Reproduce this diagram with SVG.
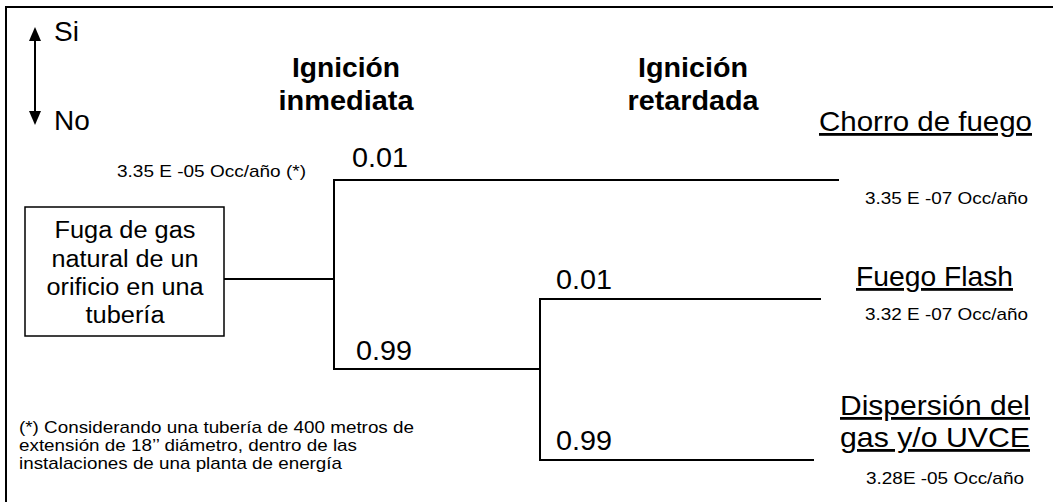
<svg xmlns="http://www.w3.org/2000/svg" width="1053" height="502" viewBox="0 0 1053 502">
<style>
text{font-family:"Liberation Sans",Arial,sans-serif;fill:#000}
.big{font-size:28px}
.hd{font-size:28px;font-weight:bold;text-anchor:middle}
.num{font-size:27px}
.occ{font-size:17px}
.box{font-size:23px;text-anchor:middle}
.note{font-size:17px}
.u{text-decoration:underline}
.ln{stroke:#000;stroke-width:2;fill:none}
</style>
<path d="M6,502 V7 H1053" stroke="#000" stroke-width="2" fill="none"/>
<g id="legend">
<line x1="35" y1="38" x2="35" y2="114" stroke="#000" stroke-width="2"/>
<polygon points="35,27 29,41 41,41" fill="#000"/>
<polygon points="35,125 29,111 41,111" fill="#000"/>
<text class="big" x="54" y="41">Si</text>
<text class="big" x="54" y="130">No</text>
</g>
<g id="headers">
<text class="hd" x="346" y="77" textLength="108" lengthAdjust="spacingAndGlyphs">Ignición</text>
<text class="hd" x="346" y="110" textLength="135" lengthAdjust="spacingAndGlyphs">inmediata</text>
<text class="hd" x="693" y="77" textLength="110" lengthAdjust="spacingAndGlyphs">Ignición</text>
<text class="hd" x="693" y="110" textLength="131" lengthAdjust="spacingAndGlyphs">retardada</text>
</g>
<g id="connectors">
<line class="ln" x1="224" y1="279" x2="334" y2="279"/>
<line class="ln" x1="334" y1="179" x2="334" y2="370"/>
<line class="ln" x1="333" y1="180" x2="839" y2="180"/>
<line class="ln" x1="333" y1="369" x2="541" y2="369"/>
<line class="ln" x1="540" y1="298" x2="540" y2="461"/>
<line class="ln" x1="539" y1="299" x2="821" y2="299"/>
<line class="ln" x1="539" y1="460" x2="814" y2="460"/>
</g>
<g id="node-fuga">
<rect x="25" y="207" width="199" height="129" fill="#fff" stroke="#000" stroke-width="1.5"/>
<text class="box" x="125" y="238" textLength="141" lengthAdjust="spacingAndGlyphs">Fuga de gas</text>
<text class="box" x="125" y="267" textLength="147" lengthAdjust="spacingAndGlyphs">natural de un</text>
<text class="box" x="125" y="295" textLength="157" lengthAdjust="spacingAndGlyphs">orificio en una</text>
<text class="box" x="125" y="323" textLength="79" lengthAdjust="spacingAndGlyphs">tubería</text>
</g>
<g id="label-inicial">
<text class="occ" x="117" y="177" textLength="189" lengthAdjust="spacingAndGlyphs">3.35 E -05 Occ/año (*)</text>
</g>
<g id="prob-labels">
<text class="num" x="352" y="167" textLength="56" lengthAdjust="spacingAndGlyphs">0.01</text>
<text class="num" x="356" y="360" textLength="56" lengthAdjust="spacingAndGlyphs">0.99</text>
<text class="num" x="556" y="289" textLength="56" lengthAdjust="spacingAndGlyphs">0.01</text>
<text class="num" x="556" y="450" textLength="56" lengthAdjust="spacingAndGlyphs">0.99</text>
</g>
<g id="node-chorro">
<text class="big u" x="819" y="131" textLength="213" lengthAdjust="spacingAndGlyphs">Chorro de fuego</text>
<text class="occ" x="865" y="204" textLength="163" lengthAdjust="spacingAndGlyphs">3.35 E -07 Occ/año</text>
</g>
<g id="node-flash">
<text class="big u" x="856" y="286" textLength="157" lengthAdjust="spacingAndGlyphs">Fuego Flash</text>
<text class="occ" x="865" y="320" textLength="163" lengthAdjust="spacingAndGlyphs">3.32 E -07 Occ/año</text>
</g>
<g id="node-dispersion">
<text class="big u" x="840" y="415" textLength="190" lengthAdjust="spacingAndGlyphs">Dispersión del</text>
<text class="big u" x="840" y="447" textLength="190" lengthAdjust="spacingAndGlyphs">gas y/o UVCE</text>
<text class="occ" x="866" y="484" textLength="158" lengthAdjust="spacingAndGlyphs">3.28E -05 Occ/año</text>
</g>
<g id="footnote">
<text class="note" x="19" y="433" textLength="395" lengthAdjust="spacingAndGlyphs">(*) Considerando una tubería de 400 metros de</text>
<text class="note" x="19" y="451" textLength="338" lengthAdjust="spacingAndGlyphs">extensión de 18’’ diámetro, dentro de las</text>
<text class="note" x="19" y="469" textLength="323" lengthAdjust="spacingAndGlyphs">instalaciones de una planta de energía</text>
</g>
</svg>
